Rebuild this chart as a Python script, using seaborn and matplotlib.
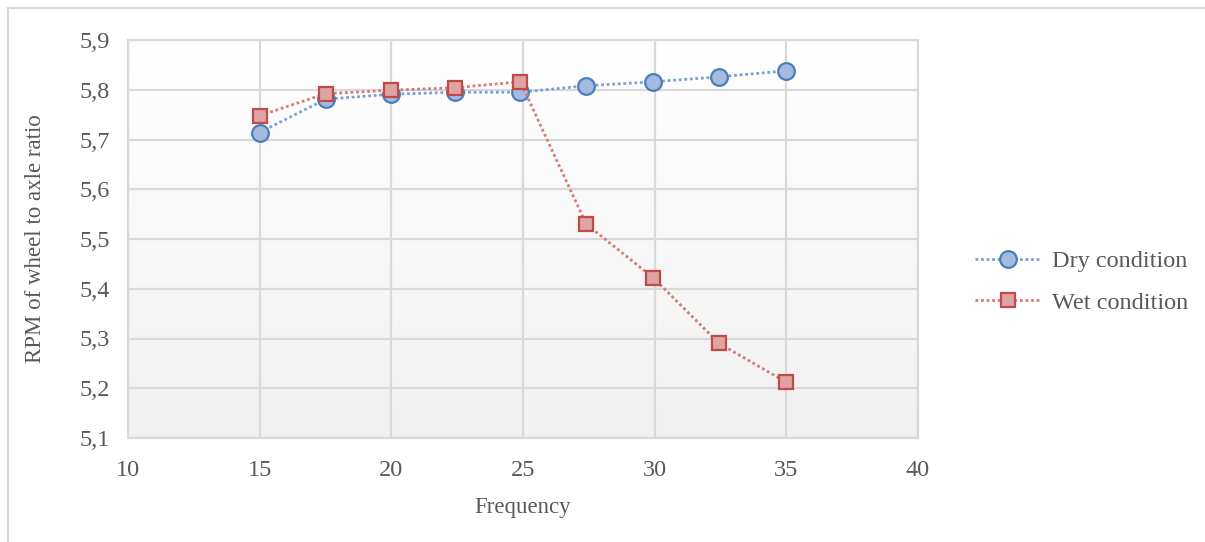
import numpy as np
import pandas as pd
import matplotlib
matplotlib.use("Agg")
import matplotlib.pyplot as plt
from matplotlib.ticker import FuncFormatter, MultipleLocator
from matplotlib.patches import Rectangle
import seaborn as sns

# Measured wheel-to-axle RPM ratio against excitation frequency
frequency = [15, 17.5, 20, 22.4, 24.9, 27.4, 29.95, 32.45, 35]
dry_ratio = [5.714, 5.781, 5.791, 5.795, 5.795, 5.808, 5.816, 5.826, 5.838]
wet_ratio = [5.748, 5.792, 5.799, 5.804, 5.816, 5.530, 5.422, 5.290, 5.212]
series_names = ["Dry condition", "Wet condition"]

df = pd.DataFrame({
    "Frequency": frequency * 2,
    "Ratio": dry_ratio + wet_ratio,
    "Condition": [series_names[0]] * len(frequency) + [series_names[1]] * len(frequency),
})

sns.set_theme(style="white")
plt.rcParams["font.family"] = ["Liberation Serif", "DejaVu Serif"]
text_color = "#595959"
grid_color = "#d9d9d9"

fig = plt.figure(figsize=(12.05, 5.42), dpi=100)
ax = fig.add_axes([128 / 1205, 1 - 438 / 542, 790 / 1205, 398 / 542])

# soft vertical gradient in the plotting area
grad = np.linspace(1.0, 0.0, 256).reshape(-1, 1)
top = np.array([1.0, 1.0, 1.0])
bottom = np.array([0.945, 0.945, 0.945])
img = top * grad[..., None] + bottom * (1 - grad[..., None])
ax.imshow(img, extent=[0, 1, 0, 1], transform=ax.transAxes, aspect="auto", zorder=-10)
ax.set_facecolor("none")

styles = {
    series_names[0]: dict(marker="o", markersize=12, line="#7aa0d4",
                          face="#a4badf", edge="#4a7ebb"),
    series_names[1]: dict(marker="s", markersize=9.5, line="#d67a77",
                          face="#dea3a2", edge="#be4b48"),
}
for name in series_names:
    st = styles[name]
    sns.lineplot(data=df[df["Condition"] == name], x="Frequency", y="Ratio",
                 ax=ax, color=st["line"], linestyle=(0, (1, 1.0)), linewidth=2.0,
                 marker=st["marker"], markersize=st["markersize"],
                 markerfacecolor=st["face"], markeredgecolor=st["edge"],
                 markeredgewidth=1.6, label=name, zorder=3)

ax.set_xlim(10, 40)
ax.set_ylim(5.1, 5.9)
ax.xaxis.set_major_locator(MultipleLocator(5))
ax.yaxis.set_major_locator(MultipleLocator(0.1))
ax.yaxis.set_major_formatter(FuncFormatter(lambda v, _: f"{v:.1f}".replace(".", ",")))
ax.grid(True, color=grid_color, linewidth=1.6)
ax.set_axisbelow(True)
for sp in ax.spines.values():
    sp.set_color(grid_color)
    sp.set_linewidth(1.6)
ax.tick_params(axis="both", length=0, labelsize=17.5, colors=text_color)
ax.tick_params(axis="y", pad=13)
ax.tick_params(axis="x", pad=16)

ax.set_xlabel("Frequency", fontsize=16.5, color=text_color, labelpad=11)
ax.set_ylabel("RPM of wheel to axle ratio", fontsize=16.5, color=text_color, labelpad=24)

leg = ax.legend(loc="center left", bbox_to_anchor=(975 / 1205, 1 - 282 / 542),
                bbox_transform=fig.transFigure, frameon=False, fontsize=17.5,
                handlelength=2.7, handletextpad=0.45, labelspacing=0.8,
                borderpad=0, borderaxespad=0)
for t in leg.get_texts():
    t.set_color(text_color)

# chart frame
fig.patches.append(Rectangle((8 / 1205, -0.05), 1.2, (534 / 542) + 0.05,
                             transform=fig.transFigure, fill=False,
                             edgecolor=grid_color, linewidth=1.6, zorder=-5))

fig.savefig("out.png", dpi=100, facecolor="white")
